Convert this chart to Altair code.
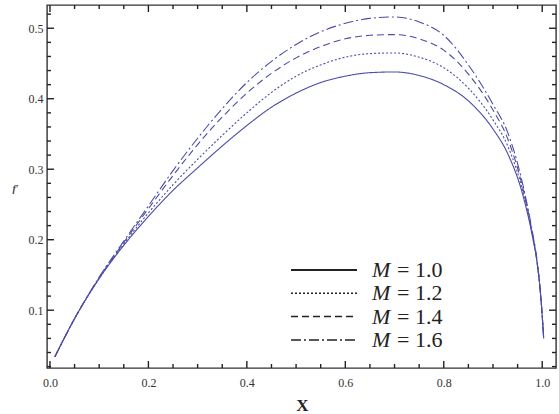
import altair as alt
import pandas as pd

# ---- data ----
X_VALUES = [0.01, 0.05, 0.1, 0.15, 0.2, 0.25, 0.3, 0.35, 0.4, 0.45, 0.5, 0.55,
            0.6, 0.65, 0.7, 0.75, 0.8, 0.85, 0.9, 0.93, 0.96, 0.98, 0.99, 0.997, 1.003]
M_LABELS = ["1.0", "1.2", "1.4", "1.6"]
F_M10 = [0.034, 0.088, 0.145, 0.192, 0.233, 0.270, 0.302, 0.333, 0.362, 0.388, 0.408, 0.423,
         0.432, 0.437, 0.438, 0.433, 0.420, 0.397, 0.357, 0.322, 0.265, 0.205, 0.165, 0.12, 0.06]
F_M12 = [0.034, 0.088, 0.145, 0.194, 0.238, 0.278, 0.314, 0.348, 0.380, 0.409, 0.432, 0.448,
         0.459, 0.464, 0.465, 0.459, 0.444, 0.415, 0.370, 0.333, 0.270, 0.207, 0.166, 0.12, 0.06]
F_M14 = [0.034, 0.088, 0.146, 0.196, 0.244, 0.291, 0.335, 0.374, 0.408, 0.436, 0.458, 0.474,
         0.485, 0.490, 0.491, 0.485, 0.469, 0.435, 0.384, 0.343, 0.275, 0.209, 0.167, 0.12, 0.06]
F_M16 = [0.034, 0.088, 0.147, 0.198, 0.248, 0.298, 0.344, 0.386, 0.423, 0.453, 0.477, 0.495,
         0.507, 0.514, 0.516, 0.509, 0.490, 0.448, 0.392, 0.352, 0.280, 0.211, 0.168, 0.12, 0.06]
SERIES = [F_M10, F_M12, F_M14, F_M16]

X_MAJOR = [0.0, 0.2, 0.4, 0.6, 0.8, 1.0]
X_MINOR = [0.05, 0.1, 0.15, 0.25, 0.3, 0.35, 0.45, 0.5, 0.55, 0.65, 0.7, 0.75, 0.85, 0.9, 0.95]
Y_MAJOR = [0.1, 0.2, 0.3, 0.4, 0.5]
Y_MINOR = [0.02, 0.04, 0.06, 0.08, 0.12, 0.14, 0.16, 0.18, 0.22, 0.24, 0.26, 0.28,
           0.32, 0.34, 0.36, 0.38, 0.42, 0.44, 0.46, 0.48, 0.52]

W, H = 509, 363
SERIF = "Liberation Serif"
CURVE = "#4c4ca6"
DASHES = [[1, 0], [2, 2], [7, 4], [10, 3, 2, 3]]

rows = []
for m, ys in zip(M_LABELS, SERIES):
    for x, y in zip(X_VALUES, ys):
        rows.append({"x": x, "f": y, "M": m})
df = pd.DataFrame(rows)

xscale = alt.Scale(domain=[-0.006, 1.028], nice=False, zero=False)
yscale = alt.Scale(domain=[0.018, 0.533], nice=False, zero=False)

X_AXIS = alt.Axis(values=X_MAJOR, format=".1f", ticks=False, domain=False, grid=False,
                  labelPadding=9, labelFont=SERIF, labelFontSize=12, labelColor="#333",
                  title="X", titleFont=SERIF, titleFontSize=17, titleFontWeight="bold",
                  titleColor="#222", titleX=255, titleY=37, titleBaseline="middle")
Y_AXIS = alt.Axis(values=Y_MAJOR, format=".1f", ticks=False, domain=False, grid=False,
                  labelPadding=4, labelFont=SERIF, labelFontSize=12, labelColor="#333",
                  title="f′", titleFont=SERIF, titleFontStyle="italic", titleFontSize=10,
                  titleColor="#444", titleAngle=0, titleX=-32, titleY=183,
                  titleAlign="center", titleBaseline="middle")

lines = alt.Chart(df).mark_line(color=CURVE, strokeWidth=1.1, interpolate="monotone").encode(
    x=alt.X("x:Q", scale=xscale, axis=X_AXIS),
    y=alt.Y("f:Q", scale=yscale, axis=Y_AXIS),
    strokeDash=alt.StrokeDash("M:N", scale=alt.Scale(domain=M_LABELS, range=DASHES), legend=None),
    detail="M:N",
)

TICK_COLOR = "#222"


def xticks(vals, length, top):
    d = pd.DataFrame({"x": vals})
    if top:
        yv, y2v = 0, length
    else:
        yv, y2v = H, H - length
    return alt.Chart(d).mark_rule(color=TICK_COLOR, strokeWidth=1.4).encode(
        x=alt.X("x:Q", scale=xscale),
        y=alt.value(yv), y2=alt.value(y2v))


def yticks(vals, length, right):
    d = pd.DataFrame({"f": vals})
    if right:
        xv, x2v = W, W - length
    else:
        xv, x2v = 0, length
    return alt.Chart(d).mark_rule(color=TICK_COLOR, strokeWidth=1.4).encode(
        y=alt.Y("f:Q", scale=yscale),
        x=alt.value(xv), x2=alt.value(x2v))


ticks = [
    xticks(X_MAJOR, 7, False), xticks(X_MINOR, 4, False),
    xticks(X_MAJOR, 7, True), xticks(X_MINOR, 4, True),
    yticks(Y_MAJOR, 7, False), yticks(Y_MINOR, 4, False),
    yticks(Y_MAJOR, 7, True), yticks(Y_MINOR, 4, True),
]

# ---- in-plot legend ----
legend_layers = []
for i, (m, dash) in enumerate(zip(M_LABELS, DASHES)):
    ly = 265 + 23.3 * i
    d = pd.DataFrame({"M": [m]})
    legend_layers.append(
        alt.Chart(d).mark_rule(color="#222", strokeWidth=1.8 if i == 0 else 1.5,
                               strokeDash=dash).encode(
            x=alt.value(244), x2=alt.value(310), y=alt.value(ly)))
    legend_layers.append(
        alt.Chart(d).mark_text(font=SERIF, fontSize=22, fontStyle="italic", align="left",
                               baseline="middle", color="#222").encode(
            x=alt.value(325), y=alt.value(ly), text=alt.value("M")))
    legend_layers.append(
        alt.Chart(d).transform_calculate(lab="'= ' + datum.M").mark_text(
            font=SERIF, fontSize=22, align="left", baseline="middle", color="#222").encode(
            x=alt.value(350), y=alt.value(ly), text="lab:N"))

chart = alt.layer(lines, *ticks, *legend_layers).properties(
    width=W, height=H,
    padding={"left": 47, "top": 5, "right": 3, "bottom": 46},
    autosize="none",
    background="white",
).configure_view(stroke="#333", strokeWidth=1.4)

chart.save("out.html", embed_options={"renderer": "svg", "actions": False})
